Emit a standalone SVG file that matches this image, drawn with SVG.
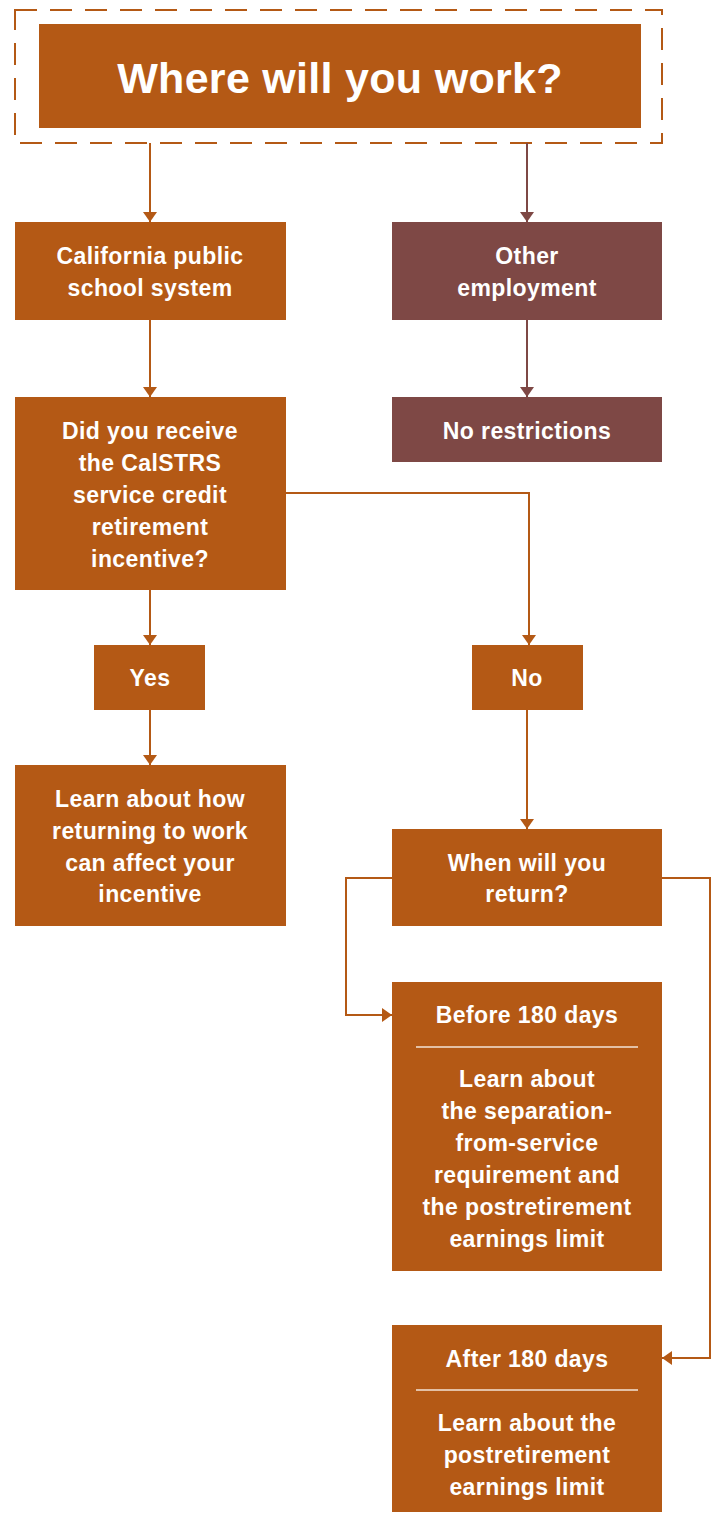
<svg xmlns="http://www.w3.org/2000/svg" width="713" height="1513" viewBox="0 0 713 1513">
<style>
.o{fill:#B45915}
.b{fill:#7E4845}
.t{font-family:"Liberation Sans",Arial,sans-serif;font-weight:bold;font-size:23px;letter-spacing:0.4px;fill:#fff;text-anchor:middle}
.title{font-size:43px;letter-spacing:0.3px}
.c{fill:none;stroke:#B45915;stroke-width:2}
.cb{fill:none;stroke:#7E4845;stroke-width:2}
.div{stroke:#F3E3D6;stroke-width:1.5}
</style>
<defs>
<marker id="ao" markerWidth="13" markerHeight="14" refX="10" refY="7" orient="auto" markerUnits="userSpaceOnUse"><path d="M0,0L10,7L0,14Z" fill="#B45915"/></marker>
<marker id="ab" markerWidth="13" markerHeight="14" refX="10" refY="7" orient="auto" markerUnits="userSpaceOnUse"><path d="M0,0L10,7L0,14Z" fill="#7E4845"/></marker>
</defs>
<g id="title">
<rect x="15" y="10" width="647" height="133" fill="none" stroke="#B45915" stroke-width="2" stroke-dasharray="22,13"/>
<rect class="o" x="39" y="24" width="602" height="104"/>
<text class="t title" x="340" y="93">Where will you work?</text>
</g>
<g id="connectors">
<path class="c" d="M150,143V222" marker-end="url(#ao)"/>
<path class="cb" d="M527,143V222" marker-end="url(#ab)"/>
<path class="c" d="M150,320V397" marker-end="url(#ao)"/>
<path class="cb" d="M527,320V397" marker-end="url(#ab)"/>
<path class="c" d="M286,493H529V645" marker-end="url(#ao)"/>
<path class="c" d="M150,590V645" marker-end="url(#ao)"/>
<path class="c" d="M150,710V765" marker-end="url(#ao)"/>
<path class="c" d="M527,710V829" marker-end="url(#ao)"/>
<path class="c" d="M392,878H346V1015H392" marker-end="url(#ao)"/>
<path class="c" d="M662,878H710V1358H662" marker-end="url(#ao)"/>
</g>
<g id="california">
<rect class="o" x="15" y="222" width="271" height="98"/>
<text class="t" x="150" y="264">California public</text>
<text class="t" x="150" y="296">school system</text>
</g>
<g id="other">
<rect class="b" x="392" y="222" width="270" height="98"/>
<text class="t" x="527" y="264">Other</text>
<text class="t" x="527" y="296">employment</text>
</g>
<g id="incentive">
<rect class="o" x="15" y="397" width="271" height="193"/>
<text class="t" x="150" y="439">Did you receive</text>
<text class="t" x="150" y="471">the CalSTRS</text>
<text class="t" x="150" y="503">service credit</text>
<text class="t" x="150" y="535">retirement</text>
<text class="t" x="150" y="567">incentive?</text>
</g>
<g id="norestrictions">
<rect class="b" x="392" y="397" width="270" height="65"/>
<text class="t" x="527" y="439">No restrictions</text>
</g>
<g id="yes">
<rect class="o" x="94" y="645" width="111" height="65"/>
<text class="t" x="150" y="686">Yes</text>
</g>
<g id="no">
<rect class="o" x="472" y="645" width="111" height="65"/>
<text class="t" x="527" y="686">No</text>
</g>
<g id="learnincentive">
<rect class="o" x="15" y="765" width="271" height="161"/>
<text class="t" x="150" y="807">Learn about how</text>
<text class="t" x="150" y="839">returning to work</text>
<text class="t" x="150" y="871">can affect your</text>
<text class="t" x="150" y="902">incentive</text>
</g>
<g id="when">
<rect class="o" x="392" y="829" width="270" height="97"/>
<text class="t" x="527" y="871">When will you</text>
<text class="t" x="527" y="902">return?</text>
</g>
<g id="before">
<rect class="o" x="392" y="982" width="270" height="289"/>
<text class="t" x="527" y="1023">Before 180 days</text>
<line class="div" x1="416" y1="1047" x2="638" y2="1047"/>
<text class="t" x="527" y="1087">Learn about</text>
<text class="t" x="527" y="1119">the separation-</text>
<text class="t" x="527" y="1151">from-service</text>
<text class="t" x="527" y="1183">requirement and</text>
<text class="t" x="527" y="1215">the postretirement</text>
<text class="t" x="527" y="1247">earnings limit</text>
</g>
<g id="after">
<rect class="o" x="392" y="1325" width="270" height="187"/>
<text class="t" x="527" y="1367">After 180 days</text>
<line class="div" x1="416" y1="1390" x2="638" y2="1390"/>
<text class="t" x="527" y="1431">Learn about the</text>
<text class="t" x="527" y="1463">postretirement</text>
<text class="t" x="527" y="1495">earnings limit</text>
</g>
</svg>
